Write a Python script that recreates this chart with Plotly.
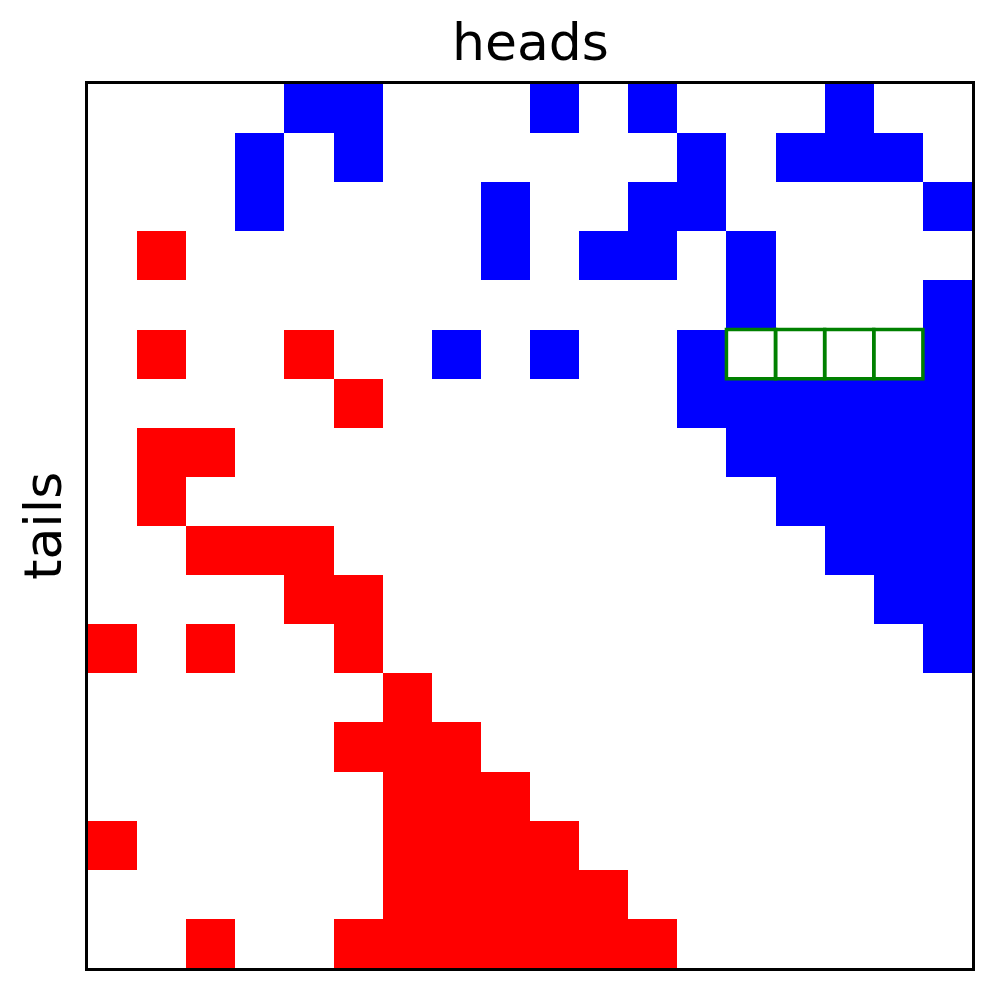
import plotly.graph_objects as go

# grid of the board, one string per row (top row first)
# '.' = empty, 'R' = tails (red), 'B' = heads (blue)
rows = [
    "....BB...B.B...B..",
    "...B.B......B.BBB.",
    "...B....B..BB....B",
    ".R......B.BB.B....",
    ".............B...B",
    ".R..R..B.B..B....B",
    ".....R......BBBBBB",
    ".RR..........BBBBB",
    ".R............BBBB",
    "..RRR..........BBB",
    "....RR..........BB",
    "R.R..R...........B",
    "......R...........",
    ".....RRR..........",
    "......RRR.........",
    "R.....RRRR........",
    "......RRRRR.......",
    "..R..RRRRRRR......",
]
# highlighted (row, col) cells
highlight_row = [5, 5, 5, 5]
highlight_col = [13, 14, 15, 16]

code = {'.': 0, 'R': 1, 'B': 2}
z = [[code[c] for c in r] for r in rows]
n_rows = len(rows)
n_cols = len(rows[0])

fig = go.Figure()
fig.add_trace(go.Heatmap(
    z=z,
    x=list(range(n_cols)),
    y=list(range(n_rows)),
    zmin=0, zmax=2,
    colorscale=[[0, 'white'], [0.333, 'white'], [0.333, 'red'], [0.667, 'red'],
                [0.667, 'blue'], [1, 'blue']],
    showscale=False,
    hoverinfo='skip',
))

for r, c in zip(highlight_row, highlight_col):
    fig.add_shape(type='rect', x0=c - 0.5, x1=c + 0.5, y0=r - 0.5, y1=r + 0.5,
                  line=dict(color='#008000', width=3.5), layer='above')

fig.add_annotation(text='heads', xref='paper', yref='paper', x=0.5, y=1,
                   xanchor='center', yanchor='bottom', yshift=10, showarrow=False,
                   font=dict(family='DejaVu Sans', size=52, color='black'))
fig.add_annotation(text='tails', xref='paper', yref='paper', x=0, y=0.5,
                   xanchor='center', yanchor='middle', xshift=-45, textangle=-90,
                   showarrow=False,
                   font=dict(family='DejaVu Sans', size=52, color='black'))

fig.update_xaxes(range=[-0.5, n_cols - 0.5], showticklabels=False, ticks='',
                 showgrid=False, zeroline=False, showline=True, mirror=True,
                 linecolor='black', linewidth=2.5)
fig.update_yaxes(range=[n_rows - 0.5, -0.5], showticklabels=False, ticks='',
                 showgrid=False, zeroline=False, showline=True, mirror=True,
                 linecolor='black', linewidth=2.5)

# page body has an 8px margin, so size and margins are trimmed for it
fig.update_layout(
    width=989, height=984,
    margin=dict(l=80, r=25, t=76, b=24),
    paper_bgcolor='white', plot_bgcolor='white',
    showlegend=False,
)

fig.write_html("out.html")
